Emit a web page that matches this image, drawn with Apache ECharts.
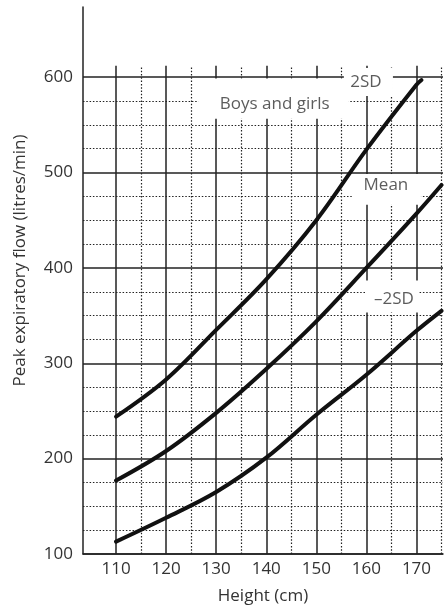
<!DOCTYPE html>
<html>
<head>
<meta charset="utf-8">
<script src="https://cdn.jsdelivr.net/npm/echarts@6.0.0/dist/echarts.min.js"></script>
<style>
  html, body { margin: 0; padding: 0; background: #fff; }
  #chart { width: 444px; height: 610px; }
</style>
</head>
<body>
<div id="chart"></div>
<script>
// Heights (cm) at which the centile curves were read
const heights = [110, 120, 130, 140, 150, 160, 170];

// Peak expiratory flow (litres/min)
const plus2SD  = [244, 283, 335, 388, 450, 524, 592];
const mean     = [177, 208, 248, 294, 344, 400, 457];
const minus2SD = [113, 138, 165, 201, 246, 288, 334];

// Final points of each curve beyond 170 cm
const plus2SDEnd  = [171, 597];
const meanEnd     = [175, 487];
const minus2SDEnd = [175, 355];

// Axis tick labels
const heightTicks = [110, 120, 130, 140, 150, 160, 170];
const flowTicks = [100, 200, 300, 400, 500, 600];

// Graph-paper rulings
const heightMajor = [110, 120, 130, 140, 150, 160, 170];
const heightMinor = [115, 125, 135, 145, 155, 165, 175];
const flowMajor = [100, 200, 300, 400, 500, 600];
const flowMinor = [125, 150, 175, 225, 250, 275, 325, 350, 375,
                   425, 450, 475, 525, 550, 575];

// Curve annotations: [text, height, flow]
const curveLabels = [
  ['Boys and girls', 141.7, 572],
  ['2SD', 159.9, 595],
  ['Mean', 163.9, 487],
  ['\u20132SD', 165.5, 367]
];

// White patches behind the annotations: [[x0, y0], [x1, y1]]
const labelPatches = [
  [[126.4, 598.6], [156.5, 556.3]],
  [[155.5, 609.7], [165.3, 580.4]],
  [[157.1, 498.6], [170.9, 466.3]],
  [[159.9, 386.8], [170.5, 353.3]]
];

const xMin = 103.4, xMax = 175.3;
const yMin = 100, yMax = 673.6;
const rulingTop = 612;

const FONT = '"Open Sans", "DejaVu Sans", sans-serif';
const FONT_SIZE = 17;
const INK = '#222';
const TEXT = '#333';

const toPairs = (xs, ys, end) => xs.map((x, i) => [x, ys[i]]).concat([end]);

const dottedStyle = { type: [1.5, 1.8], width: 1.2, color: INK };
const solidStyle = { type: 'solid', width: 1.5, color: INK };

const verticalRule = (x, style) => [
  { coord: [x, yMin], lineStyle: style },
  { coord: [x, rulingTop] }
];

const chart = echarts.init(document.getElementById('chart'), null, { renderer: 'canvas' });

const curve = (name, data) => ({
  name: name,
  type: 'line',
  data: data,
  smooth: 0.35,
  showSymbol: false,
  symbol: 'none',
  silent: true,
  z: 5,
  lineStyle: { color: '#111', width: 4, cap: 'round' }
});

chart.setOption({
  animation: false,
  backgroundColor: '#fff',
  grid: { left: 83, right: 1, top: 7, bottom: 55, containLabel: false },
  xAxis: {
    type: 'value',
    min: xMin,
    max: xMax,
    name: 'Height (cm)',
    nameLocation: 'middle',
    nameGap: 34,
    nameTextStyle: { fontFamily: FONT, fontSize: FONT_SIZE, color: TEXT },
    axisLine: { show: true, onZero: false, lineStyle: { color: INK, width: 1.5 } },
    axisTick: { show: false, customValues: heightTicks },
    splitLine: { show: false },
    axisLabel: {
      customValues: heightTicks,
      margin: 7,
      fontFamily: FONT, fontSize: FONT_SIZE, color: TEXT
    }
  },
  yAxis: {
    type: 'value',
    min: yMin,
    max: yMax,
    name: 'Peak expiratory flow (litres/min)',
    nameLocation: 'middle',
    nameGap: 54,
    nameTextStyle: { fontFamily: FONT, fontSize: FONT_SIZE, color: TEXT, padding: [0, 0, 0, 40] },
    axisLine: { show: true, onZero: false, lineStyle: { color: INK, width: 1.5 } },
    axisTick: { show: false, customValues: flowTicks },
    splitLine: { show: false },
    axisLabel: {
      customValues: flowTicks,
      margin: 10,
      fontFamily: FONT, fontSize: FONT_SIZE, color: TEXT
    }
  },
  series: [
    {
      // graph-paper rulings
      name: 'rulings',
      type: 'line',
      data: [],
      silent: true,
      z: 1,
      markLine: {
        silent: true,
        z: 1,
        symbol: 'none',
        label: { show: false },
        animation: false,
        data: []
          .concat(heightMinor.map(x => verticalRule(x, dottedStyle)))
          .concat(flowMinor.map(v => ({ yAxis: v, lineStyle: dottedStyle })))
          .concat(heightMajor.map(x => verticalRule(x, solidStyle)))
          .concat(flowMajor.map(v => ({ yAxis: v, lineStyle: solidStyle })))
      }
    },
    {
      // white patches under the annotations
      name: 'patches',
      type: 'line',
      data: [],
      silent: true,
      z: 3,
      markArea: {
        silent: true,
        z: 3,
        itemStyle: { color: '#fff', opacity: 1, borderWidth: 0 },
        label: { show: false },
        data: labelPatches.map(p => [{ coord: p[0] }, { coord: p[1] }])
      }
    },
    curve('2SD', toPairs(heights, plus2SD, plus2SDEnd)),
    curve('Mean', toPairs(heights, mean, meanEnd)),
    curve('-2SD', toPairs(heights, minus2SD, minus2SDEnd)),
    {
      name: 'annotations',
      type: 'scatter',
      symbolSize: 0,
      silent: true,
      z: 6,
      data: curveLabels.map(l => ({ name: l[0], value: [l[1], l[2]] })),
      label: {
        show: true,
        position: 'inside',
        formatter: p => p.name,
        fontFamily: FONT,
        fontSize: FONT_SIZE,
        color: TEXT
      }
    }
  ]
});
</script>
</body>
</html>
